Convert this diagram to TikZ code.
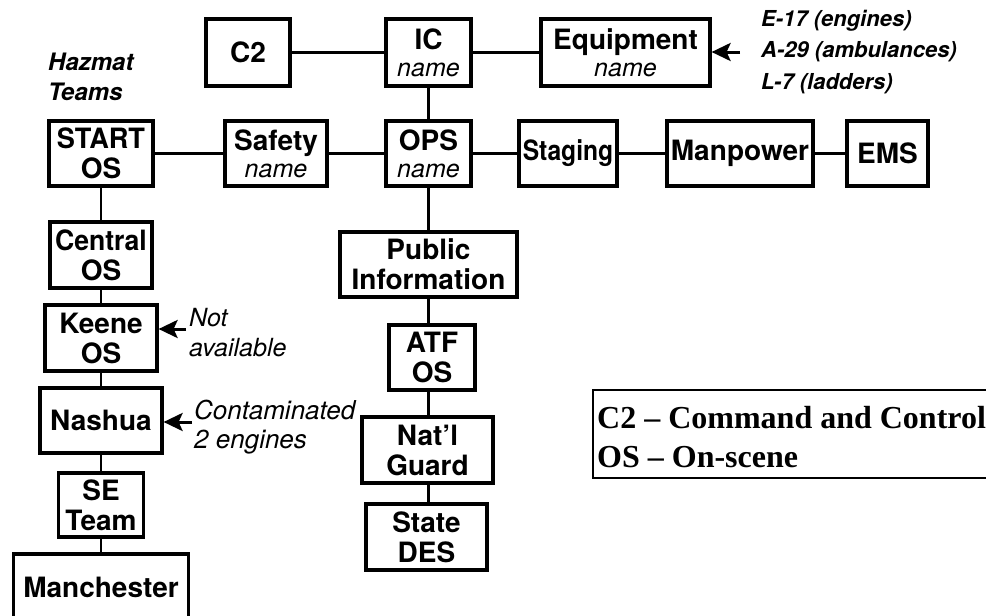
\documentclass[tikz,border=0pt]{standalone}
\usepackage{fontspec}
\setmainfont{TeX Gyre Heros}
\newfontfamily\legendfont{Liberation Serif}
\usetikzlibrary{arrows.meta}
\tikzset{
  box/.style={draw, line width=3.2pt, inner sep=0pt, align=center,
    font=\fontsize{28}{30}\selectfont\bfseries},
  conn/.style={line width=2.8pt},
  note/.style={anchor=west, align=left, inner sep=0pt},
  pointer/.style={line width=3pt, -{Stealth[length=19pt,width=18pt,inset=4pt]}},
}
\newcommand{\nm}{\fontsize{25}{30}\selectfont\mdseries\itshape name}
\begin{document}
\begin{tikzpicture}[x=1pt,y=-1pt]
\clip (0,0) rectangle (986,616);
\fill[white] (0,0) rectangle (986,616);
% top row
\node[box, minimum width=84pt, minimum height=67pt] (c2) at (248,52.5) {C2};
\node[box, minimum width=85pt, minimum height=67pt] (ic) at (428.5,52.5) {IC\\[-3pt]\nm};
\node[box, minimum width=169pt, minimum height=67pt] (equip) at (625.5,52.5) {Equipment\\[-3pt]\nm};
% second row
\node[box, minimum width=104pt, minimum height=65pt] (start) at (101,153.5) {\scalebox{0.97}[1]{START}\\OS};
\node[box, minimum width=102pt, minimum height=65pt] (safety) at (276,153.5) {Safety\\[-3pt]\nm};
\node[box, minimum width=85pt, minimum height=65pt] (ops) at (428.5,153.5) {OPS\\[-3pt]\nm};
\node[box, minimum width=98pt, minimum height=65pt] (staging) at (568,153.5) {\scalebox{0.88}[1]{Staging}};
\node[box, minimum width=146pt, minimum height=65pt] (manpower) at (740,153.5) {Manpower};
\node[box, minimum width=81pt, minimum height=65pt] (ems) at (887.5,153.5) {EMS};
% left column
\node[box, minimum width=102pt, minimum height=66pt] (central) at (101,255) {\scalebox{0.95}[1]{Central}\\OS};
\node[box, minimum width=112pt, minimum height=66pt] (keene) at (101,338) {Keene\\OS};
\node[box, minimum width=122pt, minimum height=65pt] (nashua) at (101,420.5) {Nashua};
\node[box, minimum width=85pt, minimum height=64pt] (se) at (101,505) {SE\\Team};
\node[box, minimum width=175pt, minimum height=66pt] (manch) at (101,587) {Manchester};
% middle column
\node[box, minimum width=177pt, minimum height=65pt] (pub) at (428.5,264.5) {Public\\Information};
\node[box, minimum width=86pt, minimum height=65pt] (atf) at (432,357.5) {ATF\\OS};
\node[box, minimum width=131pt, minimum height=66pt] (guard) at (427.5,450) {Nat'l\\Guard};
\node[box, minimum width=121pt, minimum height=66pt] (des) at (426.5,537) {State\\DES};
% connectors
\draw[conn] (c2) -- (ic);
\draw[conn] (ic) -- (equip);
\draw[conn] (ic) -- (ops);
\draw[conn] (start) -- (safety);
\draw[conn] (safety) -- (ops);
\draw[conn] (ops) -- (staging);
\draw[conn] (staging) -- (manpower);
\draw[conn] (manpower) -- (ems);
\draw[conn] (start) -- (central);
\draw[conn] (central) -- (keene);
\draw[conn] (keene) -- (nashua);
\draw[conn] (nashua) -- (se);
\draw[conn] (se) -- (manch);
\draw[conn] (ops) -- (pub);
\draw[conn] (pub.south) -- (pub.south |- atf.north);
\draw[conn] (pub.south |- atf.south) -- (pub.south |- guard.north);
\draw[conn] (pub.south |- guard.south) -- (pub.south |- des.north);
% annotations
\node[note, font=\fontsize{24}{30}\selectfont\bfseries\itshape] (hazmat) at (48,77) {Hazmat\\Teams};
\node[note, font=\fontsize{22}{31.5}\selectfont\bfseries\itshape] (eqlist) at (761,52) {E-17 (engines)\\A-29 (ambulances)\\L-7 (ladders)};
\node[note, font=\fontsize{25}{30}\selectfont\itshape] (notav) at (189,333) {Not\\available};
\node[note, font=\fontsize{26}{29}\selectfont\itshape] (contam) at (194,427) {Contaminated\\2 engines};
\coordinate (eqarr) at (740,52);
\coordinate (naarr) at (186,329);
\coordinate (coarr) at (192,422);
\draw[pointer] (eqarr) -- (eqarr -| equip.east);
\draw[pointer] (naarr) -- (naarr -| keene.east);
\draw[pointer] (coarr) -- (coarr -| nashua.east);
% legend
\draw[line width=1.8pt] (1000,390) -- (593,390) -- (593,478) -- (1000,478);
\node[note, font=\legendfont\fontsize{32}{39}\selectfont\bfseries] (legend) at (597,437.5) {C2 \textendash{} Command and Control\\OS \textendash{} On-scene};
\end{tikzpicture}
\end{document}
